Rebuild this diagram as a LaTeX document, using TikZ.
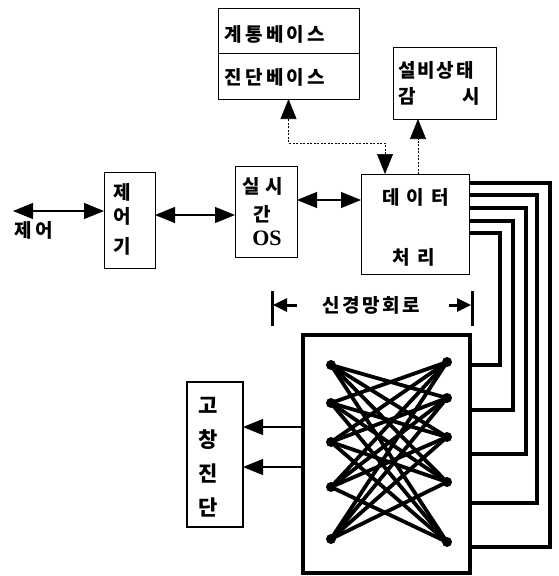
\documentclass[tikz,border=0pt]{standalone}
\usepackage{fontspec}
\newfontfamily\kr{Noto Sans CJK KR}
\newfontfamily\tms{Liberation Serif}
\usetikzlibrary{arrows.meta,calc}
\begin{document}
\begin{tikzpicture}[x=1pt,y=-1pt,
  box/.style={draw, line width=0.8pt, inner sep=0pt, outer sep=0pt, anchor=north west},
  kor/.style={inner sep=0pt, font=\kr\bfseries\fontsize{19}{19}\selectfont\addfontfeatures{LetterSpace=#1}},
  kor/.default=0,
  big/.style={inner sep=0pt, font=\kr\bfseries\fontsize{21}{21}\selectfont},
  conn/.style={line width=1.1pt},
  arr/.style={-{Triangle[length=20pt,width=16pt]}},
  darr/.style={{Triangle[length=20pt,width=16pt]}-{Triangle[length=20pt,width=16pt]}},
  dashconn/.style={line width=0.6pt, dash pattern=on 2pt off 1.5pt},
  bus/.style={line width=4pt},
  edge/.style={line width=3.8pt},
  neuron/.style={circle, fill, inner sep=0pt, minimum size=10pt},
  bar/.style={line width=3pt}
]
\useasboundingbox (0,0) rectangle (558,576);

% boxes
\node[box, minimum width=141pt, minimum height=45pt] (sysbase) at (218,8) {};
\node[box, minimum width=141pt, minimum height=46pt] (diagbase) at (218,53) {};
\node[box, minimum width=103pt, minimum height=72pt] (monitor) at (393,47) {};
\node[box, minimum width=51pt, minimum height=96pt] (ctrl) at (104,172) {};
\node[box, minimum width=62pt, minimum height=91pt] (rtos) at (235,166) {};
\node[box, minimum width=108pt, minimum height=100pt] (data) at (361,174) {};
\node[box, line width=3.5pt, minimum width=167pt, minimum height=238pt] (nn) at (303,335) {};
\node[box, line width=1.6pt, minimum width=56pt, minimum height=145pt] (fault) at (187,382) {};

% texts
\node[kor=18, anchor=west] (t1) at (224,34) {계통베이스};
\node[kor=18, anchor=west] (t2) at (224,77) {진단베이스};
\node[kor=10, anchor=west] (t3) at (398,70) {설비상태};
\node[kor, anchor=west] (t4) at (398,96) {감};
\node[kor, anchor=east] (t5) at (480,96) {시};
\node[kor=37, anchor=west] (t6) at (382,197) {데이터};
\node[kor=42, anchor=west] (t7) at (392,257) {처리};
\node[kor=21, anchor=west] (t8) at (14,230) {제어};
\node[kor] (t9) at (122,192) {제};
\node[kor] (t10) at (122,216) {어};
\node[kor] (t11) at (122,246) {기};
\node[kor=32, anchor=west] (t12) at (242,186) {실시};
\node[kor] (t13) at (262,214) {간};
\node[inner sep=0pt, font=\tms\bfseries\fontsize{22}{22}\selectfont] (t14) at (267,238) {OS};
\node[kor=14, anchor=west] (t15) at (322,305) {신경망회로};
\node[big] (t16) at (208,405) {고};
\node[big] (t17) at (208,440) {창};
\node[big] (t18) at (208,473) {진};
\node[big] (t19) at (208,507) {단};

% control chain
\coordinate (cin) at (13,211);
\draw[conn,darr] (cin) -- (cin -| ctrl.west);
\draw[conn,darr] (ctrl.east |- 0,215) -- (rtos.west |- 0,215);
\draw[conn,darr] (rtos.east |- 0,200) -- (data.west |- 0,200);

% dashed links to the data bases and monitor
\coordinate (d1) at (385,143);
\draw[dashconn,darr] (data.north -| d1) -- (d1) -| (diagbase.south);
\coordinate (m1) at (418,150);
\draw[dashconn,arr] (data.north -| m1) -- (monitor.south -| m1);

% neural network label
\coordinate (barL) at (272,305);
\coordinate (barR) at (472,305);
\draw[bar] ($(barL)+(0,-14)$) -- ($(barL)+(0,21)$);
\draw[bar] ($(barR)+(0,-14)$) -- ($(barR)+(0,21)$);
\draw[line width=3pt,-{Triangle[length=14pt,width=13pt]}] ($(barL)+(25,0)$) -- ($(barL)+(1,0)$);
\draw[line width=3pt,-{Triangle[length=14pt,width=13pt]}] ($(barR)+(-23,0)$) -- ($(barR)+(-1,0)$);

% neurons
\foreach \n/\y in {1/365,2/403,3/442,4/487,5/539} \node[neuron] (L\n) at (331,\y) {};
\foreach \n/\y in {1/362,2/398,3/437,4/482,5/542} \node[neuron] (R\n) at (447,\y) {};
\foreach \i in {1,...,5}{
  \foreach \j in {1,...,5}{
    \ifnum\i=\j\else \draw[edge] (L\i.center) -- (R\j.center);\fi
  }
}

% bus lines data -> nn
\foreach \a/\x/\b in {183/550/547, 195/537/503, 208/526/454, 221/513/410, 233/500/365}
  \draw[bus] (data.east |- 0,\a) -| (\x,\b) -- (nn.east |- 0,\b);

% outputs to fault diagnosis
\draw[conn,arr] (nn.west |- 0,427) -- (fault.east |- 0,427);
\draw[conn,arr] (nn.west |- 0,467) -- (fault.east |- 0,467);
\end{tikzpicture}
\end{document}
